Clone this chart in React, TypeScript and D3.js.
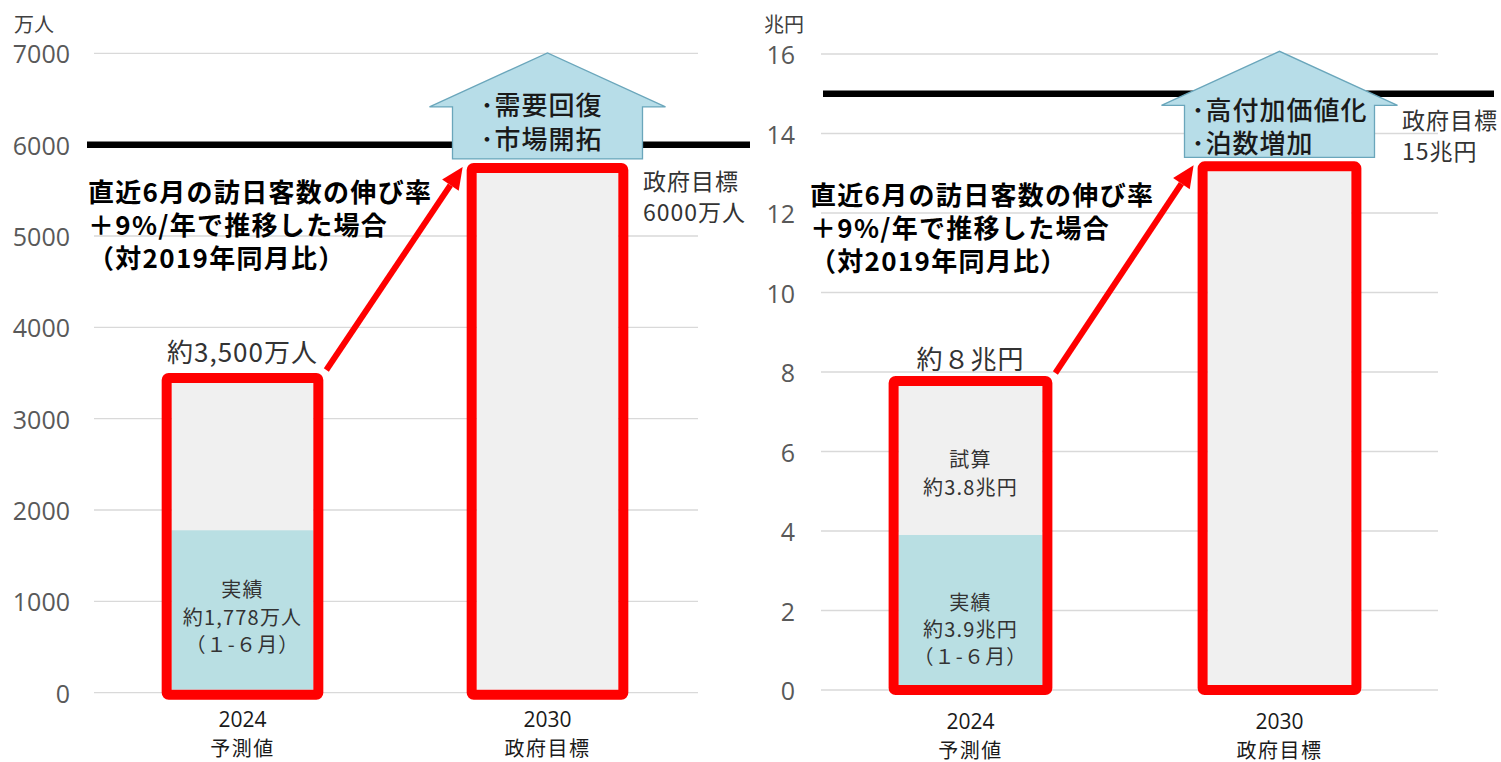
import React from "react";
import * as d3 from "d3";

// ---- data ----
const categories = ["2024", "2030"];
const categorySubs = ["予測値", "政府目標"];

const visitorTotals = [3500, 5800];
const visitorActual = [1778, 0];
const visitorTicks = [0, 1000, 2000, 3000, 4000, 5000, 6000, 7000];
const visitorTarget = 6000;

const spendTotals = [7.9, 13.3];
const spendActual = [3.9, 0];
const spendTicks = [0, 2, 4, 6, 8, 10, 12, 14, 16];
const spendTarget = 15;

const annotationLines = ["直近6月の訪日客数の伸び率", "＋9%/年で推移した場合", "（対2019年同月比）"];

const JP = "'Noto Sans CJK JP', 'Noto Sans', sans-serif";
const NUM = "'Open Sans', 'Noto Sans', sans-serif";
const RED = "#ff0000";
const TEAL = "#b9dfe3";
const GRAY = "#f0f0f0";

type PanelCfg = {
  unit: string;
  unitX: number;
  ticks: number[];
  domainMax: number;
  y0: number;
  yTop: number;
  gridX0: number;
  gridX1: number;
  bandRange: [number, number];
  tickRight: number;
  totals: number[];
  actual: number[];
  target: number;
  targetX0: number;
  targetX1: number;
  targetLabel: string[];
  targetLabelX: number;
  targetLabelY: number;
  boxLines: string[];
  boxTextDx: number;
  boxTextY: [number, number];
  annX: number;
  annY: number;
  totalLabel: string;
  totalLabelDy: number;
  actualLabels: string[];
  actualLabelY: number[];
  estLabels: string[];
  estLabelY: number[];
  innerFont: number;
  catY: [number, number];
  bottomExtra: number;
};

function Panel({ c }: { c: PanelCfg }) {
  const y = d3.scaleLinear().domain([0, c.domainMax]).range([c.y0, c.yTop]);
  const x = d3
    .scaleBand<string>()
    .domain(categories)
    .range(c.bandRange)
    .paddingInner(0.47)
    .paddingOuter(0.235);
  const bw = x.bandwidth();
  const sw = 10;

  const bars = categories.map((cat, i) => {
    const ox = x(cat)!;
    const top = y(c.totals[i]);
    const bottom = y(0) + c.bottomExtra;
    return { cat, i, ox, top, bottom, cx: ox + bw / 2 };
  });

  const b1 = bars[0];
  const b2 = bars[1];

  // red arrow
  const ax0 = b1.ox + bw + 3;
  const ay0 = b1.top - 3;
  const ax1 = b2.ox - 4;
  const ay1 = b2.top + 4;
  const ang = Math.atan2(ay1 - ay0, ax1 - ax0);
  const headL = 22;
  const headW = 10;
  const bx = ax1 - headL * Math.cos(ang);
  const by = ay1 - headL * Math.sin(ang);
  const px = -Math.sin(ang);
  const py = Math.cos(ang);

  // up arrow box
  const boxBottom = b2.top - 4;
  const headBase = boxBottom - 52;
  const tip = boxBottom - 106;
  const cx = b2.cx;
  const housePts: [number, number][] = [
    [cx - 95, boxBottom],
    [cx - 95, headBase],
    [cx - 118, headBase],
    [cx, tip],
    [cx + 118, headBase],
    [cx + 95, headBase],
    [cx + 95, boxBottom],
  ];
  const housePath = d3.line()(housePts)! + "Z";

  return (
    <g>
      {/* unit label */}
      <text x={c.unitX} y={23} fontFamily={JP} fontSize={20} fill="#404040" dominantBaseline="central">
        {c.unit}
      </text>
      {/* grid + ticks */}
      {c.ticks.map((t) => (
        <g key={t}>
          <line x1={c.gridX0} x2={c.gridX1} y1={y(t)} y2={y(t)} stroke="#d9d9d9" strokeWidth={1.3} />
          <text
            x={c.tickRight}
            y={y(t)}
            textAnchor="end"
            dominantBaseline="central"
            fontFamily={NUM}
            fontSize={25}
            fill="#595959"
          >
            {t}
          </text>
        </g>
      ))}
      {/* target line */}
      <line
        x1={c.targetX0}
        x2={c.targetX1}
        y1={y(c.target)}
        y2={y(c.target)}
        stroke="#000"
        strokeWidth={6.5}
      />
      {/* bars */}
      {bars.map((b) => {
        const inX = b.ox + sw;
        const inW = bw - 2 * sw;
        const inTop = b.top + sw;
        const inBot = b.bottom - sw;
        const act = c.actual[b.i];
        const actTop = act > 0 ? Math.max(y(act), inTop) : inBot;
        return (
          <g key={b.cat}>
            <rect x={inX} y={inTop} width={inW} height={inBot - inTop} fill={GRAY} />
            {act > 0 && <rect x={inX} y={actTop} width={inW} height={inBot - actTop} fill={TEAL} />}
            <rect
              x={b.ox + sw / 2}
              y={b.top + sw / 2}
              width={bw - sw}
              height={b.bottom - b.top - sw}
              fill="none"
              stroke={RED}
              strokeWidth={sw}
              rx={2}
            />
            <text
              x={b.cx}
              y={c.catY[0]}
              textAnchor="middle"
              dominantBaseline="central"
              fontFamily={NUM}
              fontSize={21}
              fill="#1a1a1a"
            >
              {b.cat}
            </text>
            <text
              x={b.cx}
              y={c.catY[1]}
              textAnchor="middle"
              dominantBaseline="central"
              fontFamily={JP}
              fontSize={20}
              fill="#1a1a1a"
              letterSpacing={1.5}
            >
              {categorySubs[b.i]}
            </text>
          </g>
        );
      })}
      {/* inner labels of first bar */}
      {c.actualLabels.map((t, k) => (
        <text
          key={"a" + k}
          x={b1.cx}
          y={c.actualLabelY[k]}
          textAnchor="middle"
          dominantBaseline="central"
          fontFamily={JP}
          fontSize={c.innerFont}
          fill="#333"
          letterSpacing={1.2}
        >
          {t}
        </text>
      ))}
      {c.estLabels.map((t, k) => (
        <text
          key={"e" + k}
          x={b1.cx}
          y={c.estLabelY[k]}
          textAnchor="middle"
          dominantBaseline="central"
          fontFamily={JP}
          fontSize={c.innerFont}
          fill="#333"
          letterSpacing={1.2}
        >
          {t}
        </text>
      ))}
      {/* total label */}
      <text
        x={b1.cx}
        y={b1.top + c.totalLabelDy}
        textAnchor="middle"
        dominantBaseline="central"
        fontFamily={JP}
        fontSize={26}
        fill="#333"
        letterSpacing={1}
      >
        {c.totalLabel}
      </text>
      {/* red arrow */}
      <line x1={ax0} y1={ay0} x2={bx} y2={by} stroke={RED} strokeWidth={6} />
      <path
        d={`M${ax1},${ay1}L${bx + px * headW},${by + py * headW}L${bx - px * headW},${by - py * headW}Z`}
        fill={RED}
      />
      {/* up arrow box */}
      <path d={housePath} fill="#b7dde8" stroke="#6aa6bb" strokeWidth={1.3} />
      {c.boxLines.map((t, k) => (
        <text
          key={"b" + k}
          x={cx + c.boxTextDx}
          y={boxBottom - c.boxTextY[k]}
          dominantBaseline="central"
          fontFamily={JP}
          fontSize={26}
          fill="#1a1a1a"
          fontWeight={500}
          letterSpacing={1}
        >
          {t}
        </text>
      ))}
      {/* target label */}
      {c.targetLabel.map((t, k) => (
        <text
          key={"t" + k}
          x={c.targetLabelX}
          y={c.targetLabelY + k * 31}
          dominantBaseline="central"
          fontFamily={JP}
          fontSize={23}
          fill="#333"
          letterSpacing={1}
        >
          {t}
        </text>
      ))}
      {/* annotation */}
      {annotationLines.map((t, k) => (
        <text
          key={"n" + k}
          x={c.annX}
          y={c.annY + k * 33}
          dominantBaseline="central"
          fontFamily={JP}
          fontSize={26}
          fontWeight={700}
          fill="#000"
          letterSpacing={1.3}
        >
          {t}
        </text>
      ))}
    </g>
  );
}

const leftCfg: PanelCfg = {
  unit: "万人",
  unitX: 14,
  ticks: visitorTicks,
  domainMax: 7000,
  y0: 692.7,
  yTop: 53.3,
  gridX0: 94,
  gridX1: 698,
  bandRange: [90, 700],
  tickRight: 70,
  totals: visitorTotals,
  actual: visitorActual,
  target: visitorTarget,
  targetX0: 87,
  targetX1: 750,
  targetLabel: ["政府目標", "6000万人"],
  targetLabelX: 643,
  targetLabelY: 180,
  boxLines: ["･需要回復", "･市場開拓"],
  boxTextDx: -67,
  boxTextY: [55, 21],
  annX: 88,
  annY: 190,
  totalLabel: "約3,500万人",
  totalLabelDy: -23,
  actualLabels: ["実績", "約1,778万人", "（１-６月）"],
  actualLabelY: [588, 616, 643],
  estLabels: [],
  estLabelY: [],
  innerFont: 20,
  catY: [719, 747],
  bottomExtra: 7,
};

const rightCfg: PanelCfg = {
  unit: "兆円",
  unitX: 764,
  ticks: spendTicks,
  domainMax: 16,
  y0: 690,
  yTop: 54,
  gridX0: 821,
  gridX1: 1438,
  bandRange: [816, 1434],
  tickRight: 795,
  totals: spendTotals,
  actual: spendActual,
  target: spendTarget,
  targetX0: 823,
  targetX1: 1494,
  targetLabel: ["政府目標", "15兆円"],
  targetLabelX: 1402,
  targetLabelY: 119,
  boxLines: ["･高付加価値化", "･泊数増加"],
  boxTextDx: -88,
  boxTextY: [49, 16],
  annX: 810,
  annY: 193,
  totalLabel: "約８兆円",
  totalLabelDy: -18,
  actualLabels: ["実績", "約3.9兆円", "（１-６月）"],
  actualLabelY: [601, 628, 655],
  estLabels: ["試算", "約3.8兆円"],
  estLabelY: [458, 486],
  innerFont: 20,
  catY: [721, 749],
  bottomExtra: 5,
};

export default function App() {
  return (
    <svg
      width={1501}
      height={762}
      viewBox="0 0 1501 762"
      style={{ position: "absolute", left: 0, top: 0, background: "#fff" }}
    >
      <rect x={0} y={0} width={1501} height={762} fill="#fff" />
      <Panel c={leftCfg} />
      <Panel c={rightCfg} />
    </svg>
  );
}
